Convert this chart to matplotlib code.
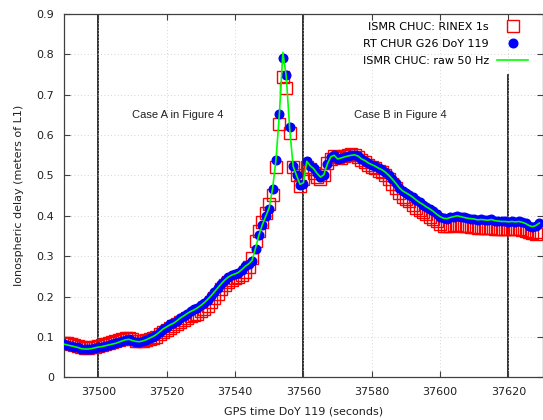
import numpy as np
import matplotlib
matplotlib.use('Agg')
import matplotlib.pyplot as plt

# GPS time (s), one sample per second
t_start, t_end = 37490, 37629

# RT CHUR G26 DoY 119 (blue dots)
rt_chur = [
    0.082, 0.080, 0.078, 0.076, 0.074, 0.071, 0.069, 0.070, 0.071, 0.072,
    0.074, 0.076, 0.078, 0.080, 0.082, 0.084, 0.087, 0.089, 0.093, 0.094,
    0.090, 0.088, 0.088, 0.090, 0.092, 0.097, 0.101, 0.105, 0.112, 0.120,
    0.125, 0.131, 0.134, 0.139, 0.147, 0.152, 0.158, 0.163, 0.168, 0.172,
    0.178, 0.185, 0.192, 0.201, 0.211, 0.222, 0.232, 0.241, 0.248, 0.253,
    0.256, 0.259, 0.267, 0.275, 0.281, 0.287, 0.318, 0.352, 0.378, 0.399,
    0.418, 0.466, 0.538, 0.651, 0.790, 0.749, 0.621, 0.523, 0.501, 0.477,
    0.480, 0.535, 0.524, 0.518, 0.505, 0.495, 0.500, 0.528, 0.546, 0.551,
    0.541, 0.543, 0.546, 0.547, 0.550, 0.551, 0.548, 0.541, 0.537, 0.531,
    0.527, 0.523, 0.518, 0.514, 0.508, 0.500, 0.491, 0.481, 0.470, 0.462,
    0.457, 0.452, 0.446, 0.439, 0.433, 0.428, 0.422, 0.417, 0.411, 0.404,
    0.398, 0.394, 0.393, 0.396, 0.398, 0.400, 0.398, 0.396, 0.394, 0.393,
    0.392, 0.390, 0.391, 0.390, 0.389, 0.391, 0.388, 0.387, 0.386, 0.386,
    0.385, 0.386, 0.385, 0.386, 0.384, 0.381, 0.376, 0.373, 0.376, 0.382,
]

# ISMR CHUC: RINEX 1s (red squares)
ismr_rinex = [
    0.085, 0.084, 0.082, 0.080, 0.078, 0.075, 0.073, 0.073, 0.074, 0.076,
    0.078, 0.080, 0.082, 0.084, 0.087, 0.089, 0.092, 0.095, 0.097, 0.097,
    0.094, 0.091, 0.090, 0.091, 0.093, 0.096, 0.098, 0.101, 0.106, 0.113,
    0.118, 0.123, 0.128, 0.131, 0.136, 0.141, 0.146, 0.151, 0.155, 0.158,
    0.163, 0.170, 0.177, 0.186, 0.196, 0.207, 0.218, 0.228, 0.236, 0.242,
    0.246, 0.249, 0.254, 0.262, 0.272, 0.295, 0.338, 0.363, 0.384, 0.408,
    0.430, 0.452, 0.520, 0.627, 0.745, 0.716, 0.605, 0.522, 0.501, 0.475,
    0.490, 0.522, 0.515, 0.505, 0.495, 0.490, 0.500, 0.530, 0.540, 0.548,
    0.545, 0.544, 0.548, 0.550, 0.552, 0.550, 0.546, 0.538, 0.533, 0.526,
    0.522, 0.518, 0.512, 0.508, 0.500, 0.492, 0.480, 0.468, 0.456, 0.447,
    0.442, 0.436, 0.428, 0.420, 0.415, 0.410, 0.404, 0.398, 0.393, 0.386,
    0.380, 0.376, 0.374, 0.376, 0.378, 0.378, 0.376, 0.375, 0.374, 0.373,
    0.372, 0.371, 0.371, 0.370, 0.370, 0.369, 0.368, 0.368, 0.368, 0.367,
    0.368, 0.367, 0.368, 0.367, 0.366, 0.363, 0.360, 0.357, 0.356, 0.360,
]

# ISMR CHUC: raw 50 Hz (green line)
ismr_raw = [
    0.082, 0.080, 0.078, 0.076, 0.074, 0.071, 0.070, 0.070, 0.071, 0.073,
    0.075, 0.076, 0.078, 0.080, 0.082, 0.084, 0.087, 0.090, 0.093, 0.094,
    0.091, 0.089, 0.088, 0.090, 0.093, 0.097, 0.101, 0.106, 0.113, 0.120,
    0.125, 0.130, 0.134, 0.140, 0.147, 0.152, 0.158, 0.163, 0.167, 0.172,
    0.178, 0.185, 0.193, 0.202, 0.212, 0.222, 0.232, 0.241, 0.248, 0.253,
    0.256, 0.260, 0.267, 0.275, 0.281, 0.290, 0.320, 0.352, 0.378, 0.399,
    0.420, 0.468, 0.540, 0.655, 0.805, 0.745, 0.615, 0.523, 0.500, 0.478,
    0.482, 0.535, 0.524, 0.517, 0.505, 0.496, 0.502, 0.528, 0.546, 0.550,
    0.541, 0.543, 0.546, 0.548, 0.550, 0.551, 0.548, 0.541, 0.537, 0.531,
    0.527, 0.523, 0.518, 0.514, 0.508, 0.500, 0.491, 0.481, 0.470, 0.462,
    0.457, 0.452, 0.446, 0.439, 0.433, 0.428, 0.422, 0.417, 0.411, 0.404,
    0.398, 0.394, 0.393, 0.396, 0.398, 0.400, 0.398, 0.396, 0.394, 0.393,
    0.392, 0.390, 0.391, 0.390, 0.389, 0.391, 0.388, 0.387, 0.386, 0.386,
    0.385, 0.386, 0.385, 0.386, 0.384, 0.381, 0.376, 0.373, 0.376, 0.382,
]

# vertical markers: (time, top of line)
markers = [(37500, 0.9), (37560, 0.9), (37620, 0.75)]
cases = [("Case A in Figure 4", 37523.3, 0.65), ("Case B in Figure 4", 37588.5, 0.65)]

t = np.arange(t_start, t_end + 1)

plt.rcParams['font.family'] = 'DejaVu Sans'
plt.rcParams['font.size'] = 8

fig = plt.figure(figsize=(5.43, 4.2), dpi=100)
ax = fig.add_axes([0.118, 0.1017, 0.8814, 0.865])

for xm, top in markers:
    ax.plot([xm, xm], [0, top], color='#202020', lw=1.3, zorder=1)

ax.plot(t, ismr_rinex, 's', mfc='none', mec='red', ms=9.2, mew=1.0,
        label='ISMR CHUC: RINEX 1s', zorder=2)
ax.plot(t, rt_chur, 'o', color='blue', mec='blue', ms=6.2,
        label='RT CHUR G26 DoY 119', zorder=3)
ax.plot(t, ismr_raw, '-', color='#00ff00', lw=1.2,
        label='ISMR CHUC: raw 50 Hz', zorder=4)

for txt, xt, yt in cases:
    ax.text(xt, yt, txt, ha='center', va='center', fontsize=8,
            family='Liberation Sans', color='#202020')

ax.set_xlim(37490, 37630)
ax.set_ylim(0, 0.9)
ax.set_xticks(np.arange(37500, 37621, 20))
ax.set_yticks(np.arange(0, 0.91, 0.1))
ax.set_yticklabels(['0', '0.1', '0.2', '0.3', '0.4', '0.5', '0.6', '0.7', '0.8', '0.9'])
ax.tick_params(direction='in', top=True, right=True, length=4.5, width=0.8,
               colors='#404040', labelcolor='#202020', labelsize=8, pad=7)
ax.grid(True, ls=(0, (1, 3)), color='#c8c8c8', lw=0.6)
for s in ax.spines.values():
    s.set_color('#404040')
    s.set_linewidth(0.9)

ax.set_xlabel('GPS time DoY 119 (seconds)', fontsize=8, color='#202020', labelpad=7)
ax.set_ylabel('Ionospheric delay (meters of L1)', fontsize=8, color='#202020', labelpad=9)

ax.legend(loc='upper right', bbox_to_anchor=(0.970, 0.977), frameon=False,
          markerfirst=False, fontsize=8, borderpad=0, borderaxespad=0,
          handlelength=2.8, handletextpad=0.75, labelspacing=0.62, numpoints=1)

fig.savefig('out.png', dpi=100)
